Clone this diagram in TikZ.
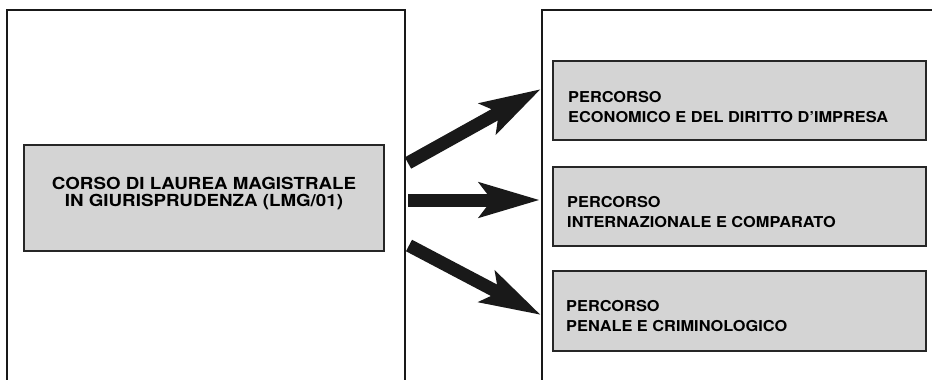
\documentclass[tikz,border=0pt]{standalone}
\usepackage{fontspec}
\setmainfont{TeX Gyre Heros}
\newfontfamily\leftfont{TeX Gyre Heros}[FakeStretch=1.13]
\newfontfamily\rightfont{TeX Gyre Heros}[FakeStretch=1.09]
\usetikzlibrary{arrows.meta}
\definecolor{boxgray}{RGB}{212,212,212}
\begin{document}
\begin{tikzpicture}[x=1pt,y=-1pt,
  frame/.style={line width=2pt, draw=black!90},
  graybox/.style={draw=black!85, line width=1.3pt, fill=boxgray},
  bigarrow/.style={line width=13pt, black!90, -{Stealth[length=60pt,width=34pt,inset=12pt]}},
  lefttext/.style={inner sep=0pt, align=center, anchor=base, font=\leftfont\bfseries\fontsize{16.6}{17.7}\selectfont},
  righttext/.style={inner sep=0pt, align=left, anchor=base west, font=\rightfont\bfseries\fontsize{15}{20.1}\selectfont}]
\useasboundingbox (0,0) rectangle (932,380);
\fill[white] (0,0) rectangle (932,380);
% outer frames
\draw[frame] (7,382) -- (7,10) -- (405,10) -- (405,382);
\draw[frame] (542,382) -- (542,10) -- (934,10);
% left box
\path[graybox] (24,145) rectangle (384,251);
\node[lefttext] (main) at (204,206.7) {CORSO DI LAUREA MAGISTRALE\\IN GIURISPRUDENZA (LMG/01)};
% right boxes
\path[graybox] (553,61) rectangle (926,140);
\path[graybox] (553,167) rectangle (926,246);
\path[graybox] (553,271) rectangle (926,351);
\node[righttext] (p1) at (568,122.3) {PERCORSO\\ECONOMICO E DEL DIRITTO D’IMPRESA};
\node[righttext] (p2) at (567,227.4) {PERCORSO\\INTERNAZIONALE E COMPARATO};
\node[righttext] (p3) at (566,331.5) {PERCORSO\\PENALE E CRIMINOLOGICO};
% arrows
\coordinate (a1s) at (408,163);
\coordinate (a1e) at (541,89);
\coordinate (a2s) at (408,200);
\coordinate (a2e) at (540,200);
\coordinate (a3s) at (409,245.5);
\coordinate (a3e) at (541,315);
\draw[bigarrow] (a1s) -- (a1e);
\draw[bigarrow] (a2s) -- (a2e);
\draw[bigarrow] (a3s) -- (a3e);
\end{tikzpicture}
\end{document}
